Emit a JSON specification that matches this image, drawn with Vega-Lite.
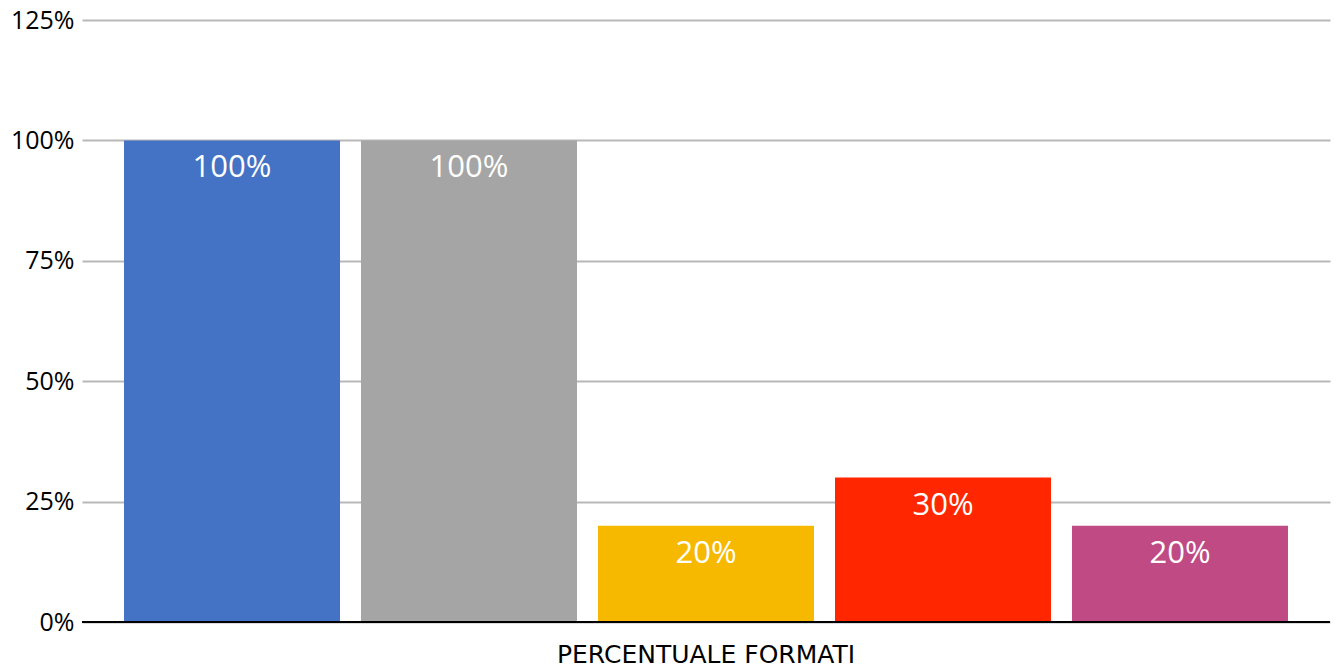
{
  "$schema": "https://vega.github.io/schema/vega-lite/v6.json",
  "width": 1248,
  "height": 602,
  "autosize": {"type": "none"},
  "padding": {"left": 82, "top": 20, "right": 8, "bottom": 48},
  "background": "white",
  "config": {"view": {"stroke": null}},
  "data": {
    "values": [
      {"categoria": "PERCENTUALE FORMATI", "serie": "Serie 1", "valore": 1.0},
      {"categoria": "PERCENTUALE FORMATI", "serie": "Serie 2", "valore": 1.0},
      {"categoria": "PERCENTUALE FORMATI", "serie": "Serie 3", "valore": 0.2},
      {"categoria": "PERCENTUALE FORMATI", "serie": "Serie 4", "valore": 0.3},
      {"categoria": "PERCENTUALE FORMATI", "serie": "Serie 5", "valore": 0.2}
    ]
  },
  "encoding": {
    "x": {
      "field": "categoria",
      "type": "nominal",
      "scale": {"paddingInner": 0, "paddingOuter": 0.0361},
      "axis": {
        "title": null,
        "labelAngle": 0,
        "labelLimit": 0,
        "ticks": false,
        "domain": false,
        "labelFont": "DejaVu Sans",
        "labelFontSize": 25,
        "labelColor": "#000000",
        "labelPadding": 20
      }
    },
    "xOffset": {
      "field": "serie",
      "type": "nominal",
      "scale": {"paddingInner": 0.0886, "paddingOuter": 0}
    },
    "y": {
      "field": "valore",
      "type": "quantitative",
      "scale": {"domain": [0, 1.25], "nice": false},
      "axis": {
        "title": null,
        "values": [0, 0.25, 0.5, 0.75, 1, 1.25],
        "format": ".0%",
        "ticks": false,
        "domain": false,
        "grid": true,
        "gridColor": "#b8b8b8",
        "gridWidth": 2,
        "labelFont": "Open Sans",
        "labelFontSize": 25,
        "labelColor": "#000000",
        "labelPadding": 8
      }
    }
  },
  "layer": [
    {
      "mark": {"type": "bar"},
      "encoding": {
        "color": {
          "field": "serie",
          "type": "nominal",
          "scale": {
            "domain": ["Serie 1", "Serie 2", "Serie 3", "Serie 4", "Serie 5"],
            "range": ["#4472C4", "#A5A5A5", "#F6B900", "#FF2600", "#C04A84"]
          },
          "legend": null
        }
      }
    },
    {
      "mark": {
        "type": "text",
        "color": "white",
        "font": "Open Sans",
        "fontSize": 31,
        "baseline": "alphabetic",
        "dy": 37
      },
      "encoding": {
        "text": {"field": "valore", "type": "quantitative", "format": ".0%"}
      }
    },
    {
      "mark": {"type": "rule", "color": "#000000", "strokeWidth": 2},
      "encoding": {"y": {"datum": 0}, "x": null, "xOffset": null}
    }
  ]
}
